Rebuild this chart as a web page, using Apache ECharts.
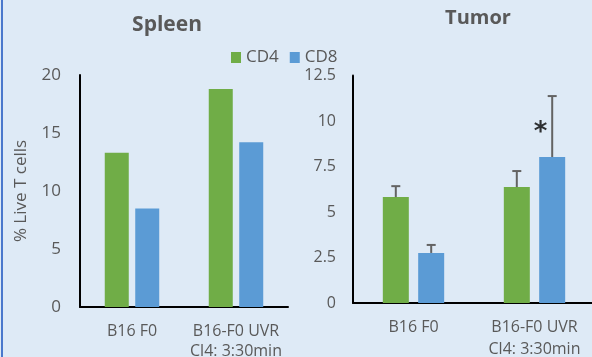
<!DOCTYPE html>
<html><head><meta charset="utf-8">
<script src="https://cdn.jsdelivr.net/npm/echarts@6/dist/echarts.min.js"></script>
<style>html,body{margin:0;padding:0;background:#deeaf6;}#c{width:592px;height:357px;}</style>
</head><body><div id="c"></div>
<script>
const categories = ['B16 F0', 'B16-F0 UVR\nCl4: 3:30min'];
const spleenCD4 = [13.3, 18.8];
const spleenCD8 = [8.5, 14.2];
const tumorCD4 = [5.82, 6.37];
const tumorCD8 = [2.75, 8.02];
const tumorCD4Err = [0.6, 0.88];
const tumorCD8Err = [0.44, 3.35];
const spleenTicks = {min: 0, max: 20, interval: 5};
const tumorTicks = {min: 0, max: 12.5, interval: 2.5};
const starPoint = [[1, 9.7]];

const txt = '#595959';
const font = 'Open Sans';
const chart = echarts.init(document.getElementById('c'));

function errSeries(vals, errs, offset) {
  return {
    type: 'custom', xAxisIndex: 1, yAxisIndex: 1, z: 5,
    data: vals.map((v, i) => [i, v, v + errs[i]]),
    renderItem: function (params, api) {
      const p0 = api.coord([api.value(0), api.value(1)]);
      const p1 = api.coord([api.value(0), api.value(2)]);
      const x = p0[0] + offset;
      const st = {stroke: '#636363', lineWidth: 2};
      return {type: 'group', children: [
        {type: 'line', shape: {x1: x, y1: p0[1], x2: x, y2: p1[1]}, style: st},
        {type: 'line', shape: {x1: x - 4.5, y1: p1[1], x2: x + 4.5, y2: p1[1]}, style: st}
      ]};
    }
  };
}

const axisLine = {show: true, lineStyle: {color: '#000', width: 2}};
chart.setOption({
  backgroundColor: '#deeaf6',
  animation: false,
  textStyle: {fontFamily: font},
  title: [
    {text: 'Spleen', left: 162, top: 10, textAlign: 'center', textStyle: {fontFamily: font, fontSize: 21, fontWeight: 'bold', color: txt}},
    {text: 'Tumor', left: 473, top: 3, textAlign: 'center', textStyle: {fontFamily: font, fontSize: 20, fontWeight: 'bold', color: txt}}
  ],
  legend: {
    left: 226, top: 44, itemWidth: 10, itemHeight: 11, itemGap: 11,
    icon: 'rect',
    textStyle: {fontFamily: font, fontSize: 17, color: txt, padding: [0, 0, 0, 0]},
    data: ['CD4', 'CD8']
  },
  graphic: [{type: 'rect', shape: {x: 1, y: 0, width: 2, height: 357}, style: {fill: '#4a78cc'}}],
  grid: [
    {left: 80, top: 75, right: 304, bottom: 50, outerBoundsMode: 'none', containLabel: false},
    {left: 353, top: 75.5, right: -3, bottom: 54, outerBoundsMode: 'none', containLabel: false}
  ],
  xAxis: [
    {type: 'category', gridIndex: 0, data: categories, axisLine: axisLine, axisTick: {show: false},
     axisLabel: {interval: 0, color: txt, fontSize: 16, lineHeight: 20, margin: 14, fontFamily: font}},
    {type: 'category', gridIndex: 1, data: categories, axisLine: axisLine, axisTick: {show: false},
     axisLabel: {interval: 0, color: txt, fontSize: 16, lineHeight: 22, margin: 13, fontFamily: font}}
  ],
  yAxis: [
    {type: 'value', gridIndex: 0, min: spleenTicks.min, max: spleenTicks.max, interval: spleenTicks.interval,
     axisLine: axisLine, axisTick: {show: false}, splitLine: {show: false},
     axisLabel: {color: txt, fontSize: 17, margin: 19, fontFamily: font},
     name: '% Live T cells', nameLocation: 'middle', nameGap: 50,
     nameTextStyle: {color: txt, fontSize: 17, fontFamily: font}},
    {type: 'value', gridIndex: 1, min: tumorTicks.min, max: tumorTicks.max, interval: tumorTicks.interval,
     axisLine: axisLine, axisTick: {show: false}, splitLine: {show: false},
     axisLabel: {color: txt, fontSize: 16, margin: 17, fontFamily: font}}
  ],
  series: [
    {name: 'CD4', type: 'bar', xAxisIndex: 0, yAxisIndex: 0, data: spleenCD4, barWidth: 24, barGap: '27%', itemStyle: {color: '#70ad47'}},
    {name: 'CD8', type: 'bar', xAxisIndex: 0, yAxisIndex: 0, data: spleenCD8, barWidth: 24, barGap: '27%', itemStyle: {color: '#5b9bd5'}},
    {name: 'CD4', type: 'bar', xAxisIndex: 1, yAxisIndex: 1, data: tumorCD4, barWidth: 26, barGap: '36%', itemStyle: {color: '#70ad47'}},
    {name: 'CD8', type: 'bar', xAxisIndex: 1, yAxisIndex: 1, data: tumorCD8, barWidth: 26, barGap: '36%', itemStyle: {color: '#5b9bd5'}},
    errSeries(tumorCD4, tumorCD4Err, -17.7),
    errSeries(tumorCD8, tumorCD8Err, 17.7),
    {type: 'scatter', xAxisIndex: 1, yAxisIndex: 1, data: starPoint, symbolSize: 0, z: 6,
     label: {show: true, formatter: '*', position: 'inside', offset: [6, 7], fontSize: 26, fontWeight: 'bold', color: '#000', fontFamily: 'DejaVu Sans'}}
  ]
});
</script></body></html>
